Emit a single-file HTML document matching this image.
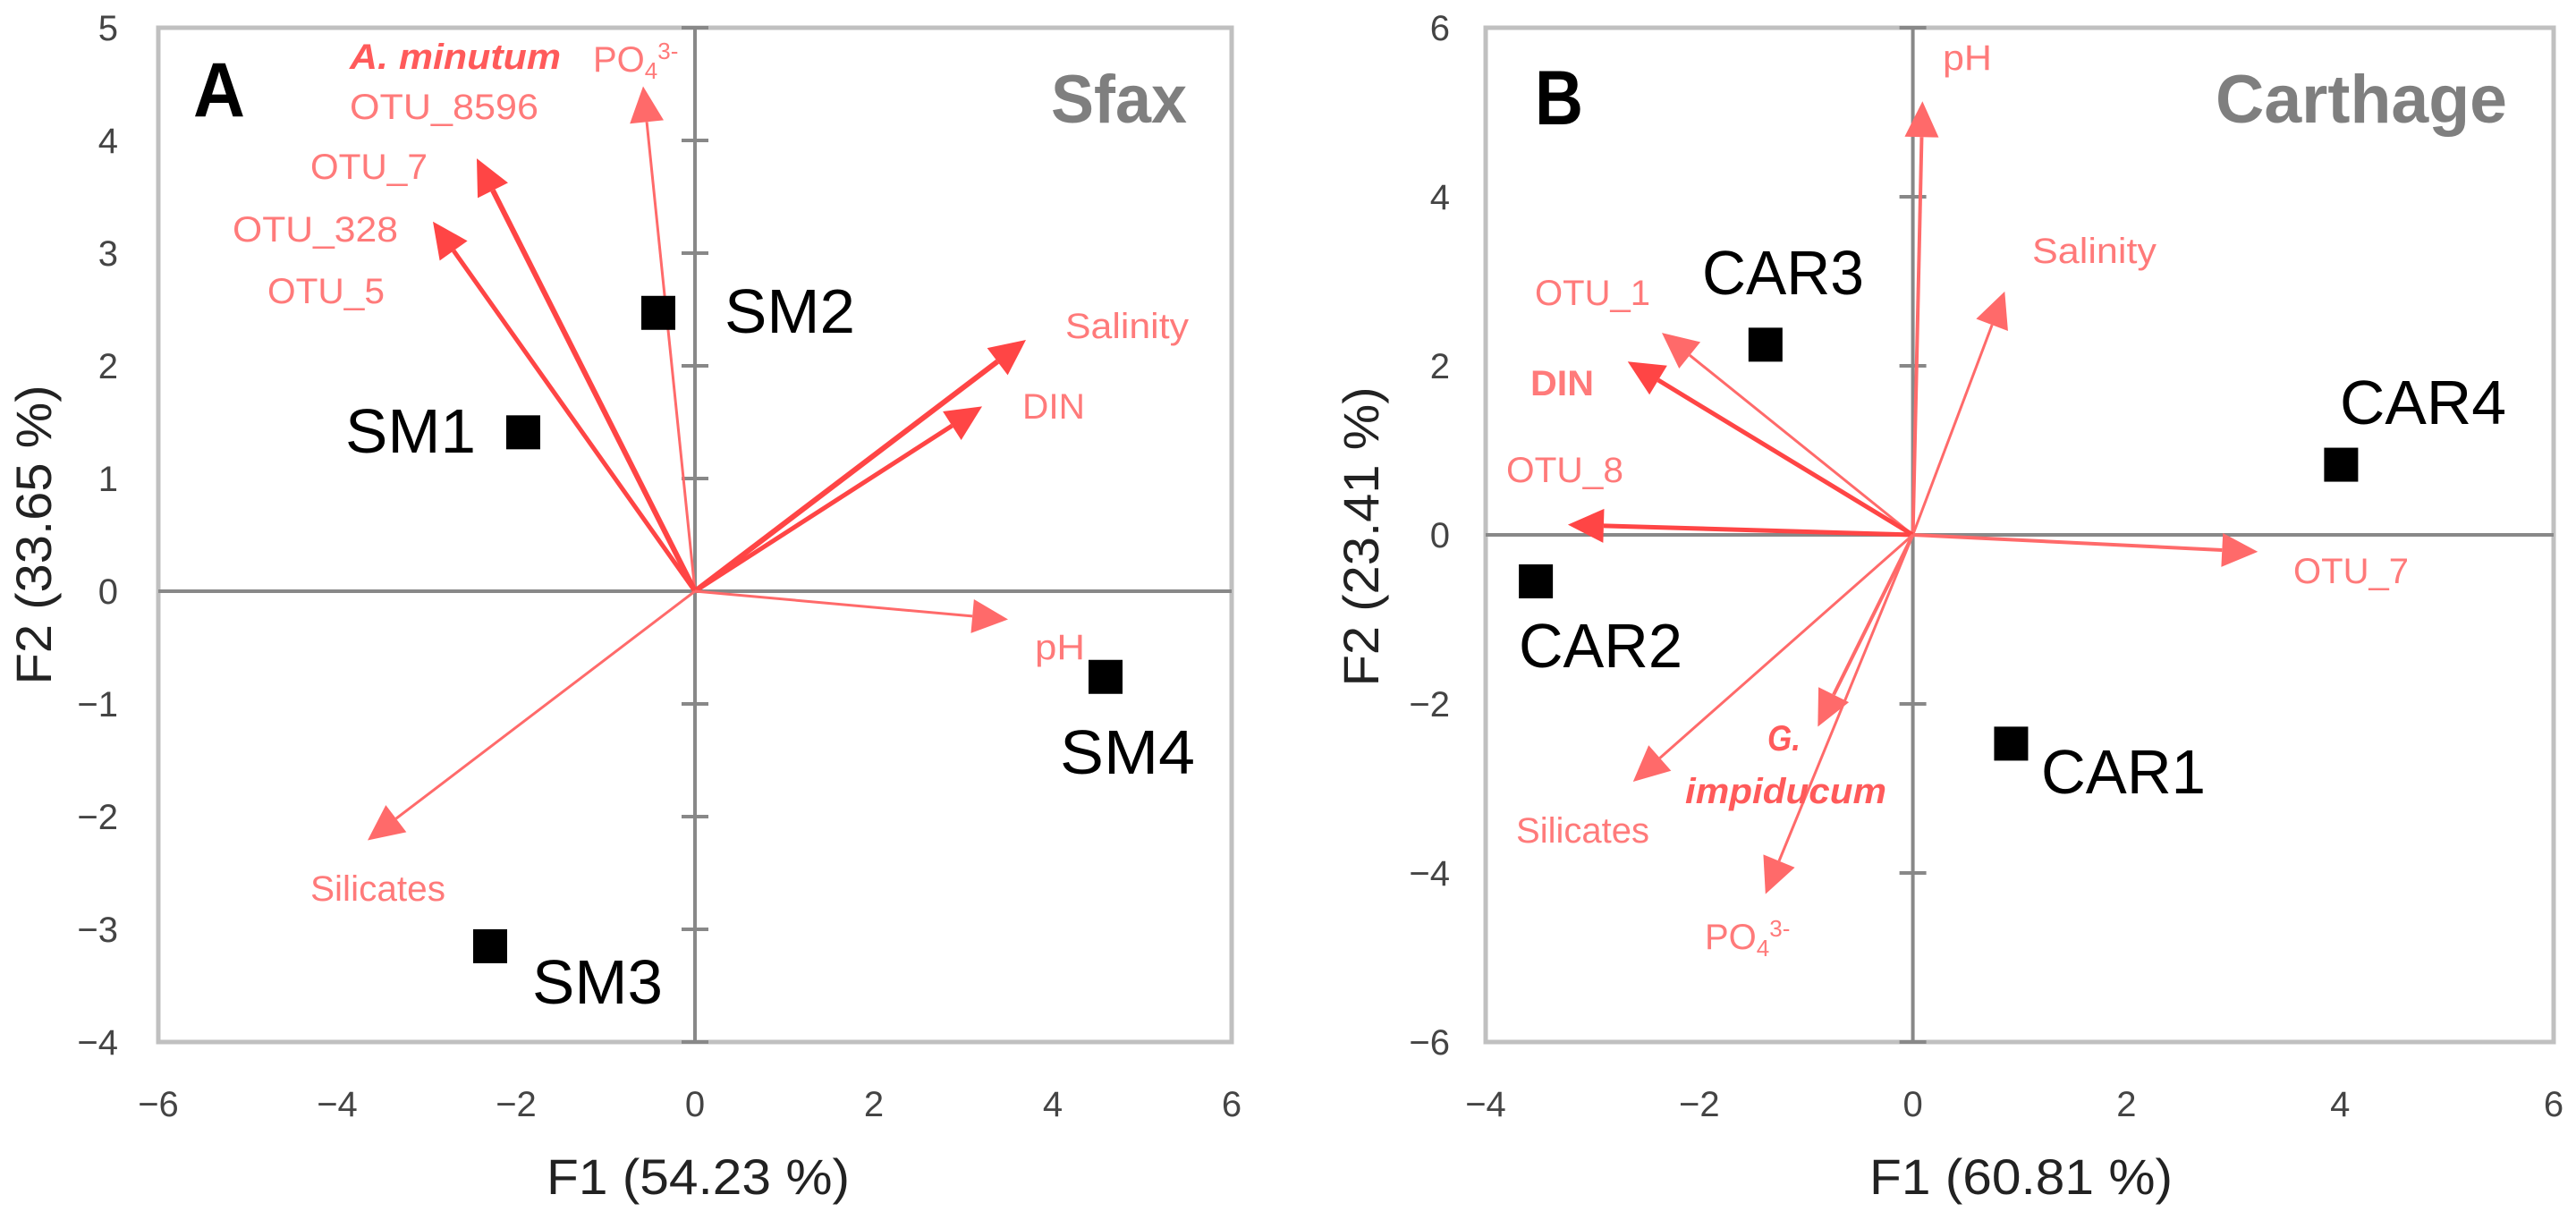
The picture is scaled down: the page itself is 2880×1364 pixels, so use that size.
<!DOCTYPE html>
<html><head><meta charset="utf-8">
<style>
html,body{margin:0;padding:0;background:#fff;}
svg{display:block;font-family:"Liberation Sans",sans-serif;}
.tk{font-size:40px;fill:#444;}
.ttl{font-size:56px;fill:#222;}
.vl{font-size:40px;fill:#ff7a7a;}
.vb{font-size:40px;fill:#ff5a5a;font-weight:bold;font-style:italic;}
.sm{font-size:70px;fill:#000;}
</style></head>
<body>
<svg id="chart" width="2880" height="1364" viewBox="0 0 2880 1364" xmlns="http://www.w3.org/2000/svg">
<rect width="2880" height="1364" fill="#fff"/>
<g id="panelA">
  <text x="216" y="130" font-size="86" font-weight="bold" textLength="58" lengthAdjust="spacingAndGlyphs">A</text>
  <text x="1175" y="137" font-size="76" font-weight="bold" fill="#7f7f7f" textLength="152" lengthAdjust="spacingAndGlyphs">Sfax</text>
  <text class="vb" x="391" y="77" textLength="236" lengthAdjust="spacingAndGlyphs">A. minutum</text>
  <text class="vl" x="391" y="133" textLength="211" lengthAdjust="spacingAndGlyphs">OTU_8596</text>
  <text class="vl" x="347" y="200" fill="#ff5a5a" textLength="131" lengthAdjust="spacingAndGlyphs">OTU_7</text>
  <text class="vl" x="260" y="270" textLength="185" lengthAdjust="spacingAndGlyphs">OTU_328</text>
  <text class="vl" x="299" y="339" fill="#ff5a5a" textLength="131" lengthAdjust="spacingAndGlyphs">OTU_5</text>
  <text class="vl" x="663" y="80">PO<tspan font-size="26" dy="8">4</tspan><tspan font-size="26" dy="-22">3-</tspan></text>
  <text class="vl" x="1191" y="378" textLength="138" lengthAdjust="spacingAndGlyphs">Salinity</text>
  <text class="vl" x="1143" y="468" textLength="70" lengthAdjust="spacingAndGlyphs">DIN</text>
  <text class="vl" x="1157" y="737" textLength="56" lengthAdjust="spacingAndGlyphs">pH</text>
  <text class="vl" x="347" y="1007" textLength="151" lengthAdjust="spacingAndGlyphs">Silicates</text>
  <text class="sm" x="386" y="506" textLength="146" lengthAdjust="spacingAndGlyphs">SM1</text>
  <text class="sm" x="810" y="372" textLength="146" lengthAdjust="spacingAndGlyphs">SM2</text>
  <text class="sm" x="595" y="1122" textLength="146" lengthAdjust="spacingAndGlyphs">SM3</text>
  <text class="sm" x="1185" y="865" textLength="151" lengthAdjust="spacingAndGlyphs">SM4</text>
  <text class="ttl" x="611" y="1335" textLength="339" lengthAdjust="spacingAndGlyphs">F1 (54.23 %)</text>
  <text class="ttl" transform="translate(57,598) rotate(-90)" text-anchor="middle" textLength="335" lengthAdjust="spacingAndGlyphs">F2 (33.65 %)</text>
</g>
<g id="panelB">
  <text x="1716" y="139" font-size="86" font-weight="bold" textLength="54" lengthAdjust="spacingAndGlyphs">B</text>
  <text x="2477" y="137" font-size="76" font-weight="bold" fill="#7f7f7f" textLength="326" lengthAdjust="spacingAndGlyphs">Carthage</text>
  <text class="vl" x="2172" y="78" textLength="55" lengthAdjust="spacingAndGlyphs">pH</text>
  <text class="vl" x="2272" y="294" textLength="139" lengthAdjust="spacingAndGlyphs">Salinity</text>
  <text class="vl" x="1716" y="341" textLength="129" lengthAdjust="spacingAndGlyphs">OTU_1</text>
  <text class="vl" x="1711" y="442" fill="#ff4a4a" font-weight="bold" textLength="71" lengthAdjust="spacingAndGlyphs">DIN</text>
  <text class="vl" x="1684" y="539" textLength="131" lengthAdjust="spacingAndGlyphs">OTU_8</text>
  <text class="vl" x="2564" y="652" textLength="129" lengthAdjust="spacingAndGlyphs">OTU_7</text>
  <text class="vb" x="1976" y="839" textLength="37" lengthAdjust="spacingAndGlyphs">G.</text>
  <text class="vb" x="1884" y="898" textLength="225" lengthAdjust="spacingAndGlyphs">impiducum</text>
  <text class="vl" x="1695" y="942" textLength="149" lengthAdjust="spacingAndGlyphs">Silicates</text>
  <text class="vl" x="1906" y="1061">PO<tspan font-size="26" dy="8">4</tspan><tspan font-size="26" dy="-22">3-</tspan></text>
  <text class="sm" x="1903" y="329" textLength="181" lengthAdjust="spacingAndGlyphs">CAR3</text>
  <text class="sm" x="2616" y="474" textLength="186" lengthAdjust="spacingAndGlyphs">CAR4</text>
  <text class="sm" x="1698" y="746" textLength="183" lengthAdjust="spacingAndGlyphs">CAR2</text>
  <text class="sm" x="2282" y="887" textLength="184" lengthAdjust="spacingAndGlyphs">CAR1</text>
  <text class="ttl" x="2090" y="1335" textLength="339" lengthAdjust="spacingAndGlyphs">F1 (60.81 %)</text>
  <text class="ttl" transform="translate(1541,600) rotate(-90)" text-anchor="middle" textLength="335" lengthAdjust="spacingAndGlyphs">F2 (23.41 %)</text>
</g>
</svg>
<script>
// ---- Panel A data (Sfax) ----
const aXTicks = [-6, -4, -2, 0, 2, 4, 6];
const aYTicks = [5, 4, 3, 2, 1, 0, -1, -2, -3, -4];
const aSampleNames = ["SM1", "SM2", "SM3", "SM4"];
const aSampleX = [-1.92, -0.41, -2.29, 4.59];
const aSampleY = [1.41, 2.47, -3.15, -0.76];
const aVarNames = ["PO4", "OTU_7", "OTU_328", "Salinity", "DIN", "pH", "Silicates"];
const aVarX = [-0.58, -2.44, -2.93, 3.70, 3.21, 3.50, -3.66];
const aVarY = [4.48, 3.84, 3.28, 2.23, 1.64, -0.25, -2.21];
const aVarW = [3, 6, 5, 6, 5, 3, 3];
// ---- Panel B data (Carthage) ----
const bXTicks = [-4, -2, 0, 2, 4, 6];
const bYTicks = [6, 4, 2, 0, -2, -4, -6];
const bSampleNames = ["CAR1", "CAR2", "CAR3", "CAR4"];
const bSampleX = [0.92, -3.53, -1.38, 4.01];
const bSampleY = [-2.47, -0.55, 2.25, 0.83];
const bVarNames = ["pH", "Salinity", "OTU_1", "DIN", "OTU_8", "OTU_7", "G_impiducum", "PO4", "Silicates"];
const bVarX = [0.09, 0.86, -2.35, -2.67, -3.23, 3.23, -0.89, -1.38, -2.62];
const bVarY = [5.13, 2.88, 2.39, 2.05, 0.12, -0.20, -2.27, -4.25, -2.92];
const bVarW = [4, 3, 3, 5, 5, 4, 4, 3, 3];

const NS = "http://www.w3.org/2000/svg";
const svg = document.getElementById("chart");
function mk(tag, attrs, parent) {
  const e = document.createElementNS(NS, tag);
  for (const k in attrs) e.setAttribute(k, attrs[k]);
  (parent || svg).appendChild(e);
  return e;
}
function panel(cfg) {
  const g = document.getElementById(cfg.id);
  const layer = mk("g", {});
  g.insertBefore(layer, g.firstChild);
  const sx = v => cfg.l + (v - cfg.x0) / (cfg.x1 - cfg.x0) * (cfg.r - cfg.l);
  const sy = v => cfg.t + (cfg.y1 - v) / (cfg.y1 - cfg.y0) * (cfg.b - cfg.t);
  const frame = mk("rect", {x: cfg.l, y: cfg.t, width: cfg.r - cfg.l, height: cfg.b - cfg.t, fill: "none", stroke: "#c0c0c0", "stroke-width": 5}, layer);
  
  
  const ax = mk("line", {x1: cfg.l, x2: cfg.r, y1: sy(0), y2: sy(0), stroke: "#888", "stroke-width": 4}, layer);
  
  
  const ay = mk("line", {x1: sx(0), x2: sx(0), y1: cfg.t, y2: cfg.b, stroke: "#888", "stroke-width": 4}, layer);
  
  
  cfg.yt.forEach(v => {
    const tm = mk("line", {x1: sx(0) - 15, x2: sx(0) + 15, y1: sy(v), y2: sy(v), stroke: "#888", "stroke-width": 4}, layer);
    
    
    const t = mk("text", {x: cfg.ylx, y: sy(v) + 14, "text-anchor": "end", class: "tk"}, layer);
    t.textContent = String(v).replace("-", "\u2212");
    
    
  });
  cfg.xt.forEach(v => {
    const t = mk("text", {x: sx(v), y: 1248, "text-anchor": "middle", class: "tk"}, layer);
    t.textContent = String(v).replace("-", "\u2212");
    
    
  });
  const ox = sx(0), oy = sy(0);
  cfg.vx.forEach((vx, i) => {
    const tx = sx(vx), ty = sy(cfg.vy[i]);
    const dx = tx - ox, dy = ty - oy, L = Math.hypot(dx, dy);
    const ux = dx / L, uy = dy / L, hl = 40, hw = 19;
    const bx = tx - ux * hl, by = ty - uy * hl;
    const col = cfg.vw[i] >= 5 ? "#ff4545" : "#ff6a6a";
    const ln = mk("line", {x1: ox, y1: oy, x2: bx, y2: by, stroke: col, "stroke-width": cfg.vw[i]}, layer);
    
    
    const hd = mk("polygon", {points: `${tx},${ty} ${bx - uy * hw},${by + ux * hw} ${bx + uy * hw},${by - ux * hw}`, fill: col}, layer);
    
    
  });
  cfg.px.forEach((px, i) => {
    const r = mk("rect", {x: sx(px) - 19, y: sy(cfg.py[i]) - 19, width: 38, height: 38, fill: "#000"}, layer);
    
    
  });
}
panel({id: "panelA", l: 177, r: 1377, t: 31, b: 1165, x0: -6, x1: 6, y0: -4, y1: 5,
  xt: aXTicks, yt: aYTicks, ylx: 132, px: aSampleX, py: aSampleY, pn: aSampleNames,
  vx: aVarX, vy: aVarY, vw: aVarW, vn: aVarNames});
panel({id: "panelB", l: 1661, r: 2855, t: 31, b: 1165, x0: -4, x1: 6, y0: -6, y1: 6,
  xt: bXTicks, yt: bYTicks, ylx: 1621, px: bSampleX, py: bSampleY, pn: bSampleNames,
  vx: bVarX, vy: bVarY, vw: bVarW, vn: bVarNames});
</script>
</body></html>
